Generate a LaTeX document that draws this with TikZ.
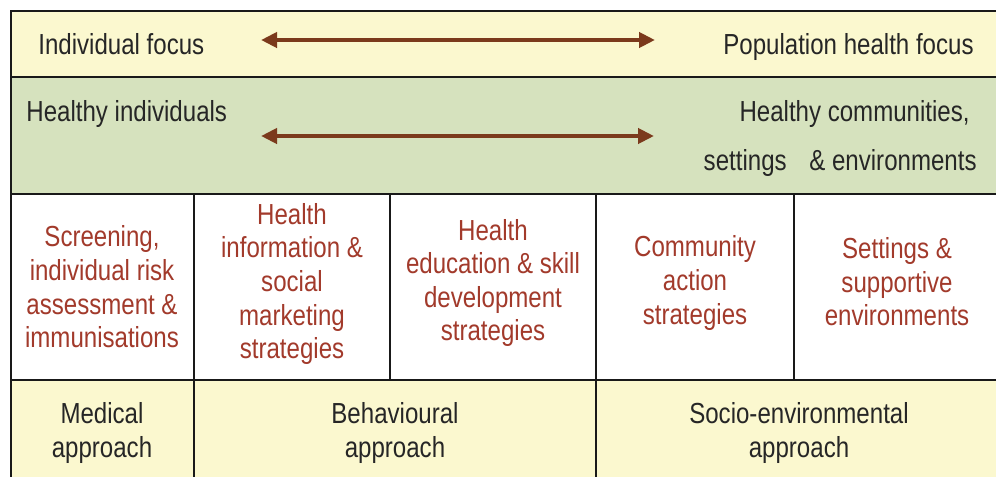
\documentclass[tikz,border=0pt]{standalone}
\usepackage{fontspec}
\setmainfont{Liberation Sans}[FakeStretch=0.83]
\usetikzlibrary{arrows.meta}
\definecolor{paleyellow}{HTML}{FBF8CF}
\definecolor{palegreen}{HTML}{D6E2BE}
\definecolor{rust}{HTML}{A23A2B}
\definecolor{arrowbrown}{HTML}{7B3A1C}
\tikzset{
  grid/.style={line width=1.3pt, black!90},
  plain/.style={inner sep=0pt, font=\fontsize{14.5}{17}\selectfont, text=black!85},
  strategy/.style={inner sep=0pt, align=center, font=\fontsize{14.5}{16.8}\selectfont, text=rust},
  approach/.style={inner sep=0pt, align=center, font=\fontsize{14.5}{17}\selectfont, text=black!85},
  twoway/.style={line width=2.3pt, arrowbrown, {Triangle[length=8pt,width=7.5pt]}-{Triangle[length=8pt,width=7.5pt]}}
}
\begin{document}
\begin{tikzpicture}[x=0.5pt,y=-0.5pt]
  \useasboundingbox (0,0) rectangle (996,477);
  \fill[paleyellow] (11,11) rectangle (996,77);
  \fill[palegreen] (11,77) rectangle (996,194);
  \fill[white] (11,194) rectangle (996,380);
  \fill[paleyellow] (11,380) rectangle (996,477);
  \draw[grid] (996,11) -- (11,11) -- (11,477);
  \draw[grid] (11,77) -- (996,77);
  \draw[grid] (11,194) -- (996,194);
  \draw[grid] (11,380) -- (996,380);
  \draw[grid] (194,194) -- (194,477);
  \draw[grid] (390,194) -- (390,380);
  \draw[grid] (596,194) -- (596,477);
  \draw[grid] (794,194) -- (794,380);

  \node[plain, anchor=base west] (indiv) at (38,54) {Individual focus};
  \node[plain, anchor=base east] (popn) at (974,54) {Population health focus};
  \node[plain, anchor=base west] (hindiv) at (26,121) {Healthy individuals};
  \node[plain, anchor=base east] (hcomm) at (970,121) {Healthy communities,};
  \node[plain, anchor=base east] (hsett) at (977,170) {settings\hspace{8pt} \& environments};

  \coordinate (focusL) at (261,40);
  \coordinate (focusR) at (655,40);
  \coordinate (healthL) at (261,136);
  \coordinate (healthR) at (654,136);
  \draw[twoway] (focusL) -- (focusR);
  \draw[twoway] (healthL) -- (healthR);

  \node[strategy] (screen) at (102,287) {Screening,\\individual risk\\assessment \&\\immunisations};
  \node[strategy] (info) at (292,284) {Health\\information \&\\social\\marketing\\strategies};
  \node[strategy] (educ) at (493,283) {Health\\education \& skill\\development\\strategies};
  \node[strategy] (comm) at (695,283) {Community\\action\\strategies};
  \node[strategy] (sett) at (897,282) {Settings \&\\supportive\\environments};

  \node[approach] (medical) at (102,433) {Medical\\approach};
  \node[approach] (behav) at (395,433) {Behavioural\\approach};
  \node[approach] (socio) at (799,433) {Socio-environmental\\approach};
\end{tikzpicture}
\end{document}
